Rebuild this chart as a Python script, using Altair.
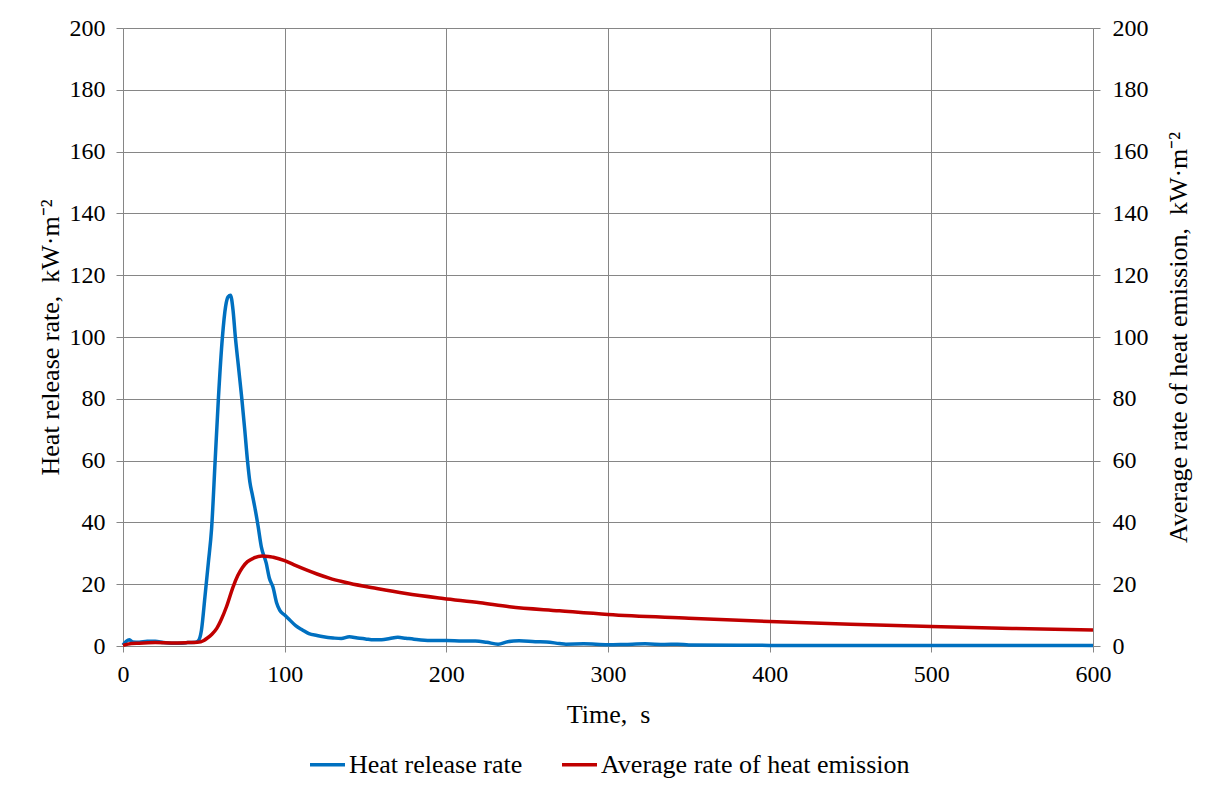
import altair as alt
import pandas as pd

# Heat release rate (blue)
hrr_t = [0, 2, 4, 6, 10, 15, 20, 25, 30, 35, 40, 45, 46.5, 48.5, 50.7, 52.8, 54.8, 57, 59, 61.5,
         63.5, 65, 66.5, 68, 69.5, 71.5, 73.5, 75.3, 77, 78.5, 80, 81.5, 83.5, 85.6, 88.6, 90.5,
         92.8, 95, 97, 100, 103, 107, 111, 115, 120, 124, 130, 135, 140, 145, 150, 155, 160,
         165, 170, 175, 180, 190, 200, 210, 218, 225, 232, 238, 245, 255, 262, 270, 274, 285,
         300, 310, 323, 335, 343, 350, 400, 500, 600]
hrr_v = [0.3, 1.5, 2.0, 1.3, 1.2, 1.5, 1.5, 1.1, 0.9, 0.9, 1.1, 1.2, 1.6, 5, 16, 27, 38, 60, 80, 100,
         110, 113, 113.5, 109, 100, 90, 80, 70, 60, 53, 49, 45, 39, 32, 26.8, 22,
         19, 14, 11.5, 10, 8.5, 6.5, 5.2, 4.0, 3.4, 3.0, 2.6, 2.4, 3.0, 2.6, 2.3, 2.0, 2.0,
         2.4, 2.8, 2.5, 2.2, 1.8, 1.8, 1.6, 1.6, 1.2, 0.6, 1.4, 1.7, 1.4, 1.3, 0.8, 0.6, 0.7,
         0.4, 0.5, 0.7, 0.5, 0.6, 0.3, 0.2, 0.2, 0.2]

# Average rate of heat emission (red)
arhe_t = [0, 3, 10, 20, 30, 40, 46, 50, 52, 55, 58, 61, 64, 68, 71, 74, 77, 81, 86, 90, 93, 100,
          107, 113, 120, 128, 136, 140, 157, 175, 198, 221, 239, 270, 300, 350, 400, 450, 500,
          550, 600]
arhe_v = [0.2, 0.6, 0.9, 1.1, 1.0, 1.1, 1.2, 1.8, 2.5, 3.8, 5.7, 8.8, 12.7, 19, 22.8, 25.5, 27.3,
          28.5, 29.1, 29.0, 28.7, 27.6, 26.0, 24.7, 23.3, 21.9, 20.8, 20.3, 18.6, 17.0, 15.4,
          14.0, 12.7, 11.4, 10.2, 9.0, 7.9, 7.0, 6.3, 5.7, 5.2]

series_names = ["Heat release rate", "Average rate of heat emission"]
series_colors = ["#0070C0", "#C00000"]
x_ticks = [0, 100, 200, 300, 400, 500, 600]
y_ticks = list(range(0, 201, 20))

df = pd.concat([
    pd.DataFrame({"t": hrr_t, "v": hrr_v, "series": series_names[0]}),
    pd.DataFrame({"t": arhe_t, "v": arhe_v, "series": series_names[1]}),
])

FONT = "Liberation Serif"
FS = 24
TFS = 26
AXC = "#868686"

x_enc = alt.X("t:Q", scale=alt.Scale(domain=[0, 600], nice=False),
              axis=alt.Axis(values=x_ticks, title="Time,\u00a0 s", grid=True, tickSize=6,
                            labelPadding=10, titlePadding=15, labelFlush=False))
color_enc = alt.Color("series:N",
                      scale=alt.Scale(domain=series_names, range=series_colors),
                      legend=alt.Legend(title=None, orient="none", legendX=185, legendY=717,
                                        direction="horizontal", symbolType="stroke",
                                        symbolSize=1225, symbolStrokeWidth=3.5,
                                        labelFontSize=TFS, labelFont=FONT, labelLimit=500,
                                        labelOffset=2, columnPadding=32, labelColor="black"))

blue = alt.Chart(df).transform_filter(alt.datum.series == series_names[0]).mark_line(
    strokeWidth=3.5, interpolate="monotone").encode(
    x=x_enc,
    y=alt.Y("v:Q", scale=alt.Scale(domain=[0, 200], nice=False),
            axis=alt.Axis(values=y_ticks, orient="left", grid=True, tickSize=7, labelPadding=11,
                          title="Heat release rate,\u00a0 kW·m⁻²", titlePadding=6)),
    color=color_enc,
)

red = alt.Chart(df).transform_filter(alt.datum.series == series_names[1]).mark_line(
    strokeWidth=3.5, interpolate="monotone").encode(
    x=x_enc,
    y=alt.Y("v:Q", scale=alt.Scale(domain=[0, 200], nice=False),
            axis=alt.Axis(values=y_ticks, orient="right", grid=False, tickSize=7, labelPadding=12,
                          title="Average rate of heat emission,\u00a0 kW·m⁻²", titlePadding=43,
                          titleAngle=270)),
    color=color_enc,
)

chart = alt.layer(blue, red).resolve_scale(y="independent").properties(
    width=970, height=618,
    autosize=alt.AutoSizeParams(type="none"),
    padding={"left": 115, "top": 20, "right": 100, "bottom": 134},
).configure(font=FONT).configure_view(stroke="transparent").configure_axis(
    labelFont=FONT, titleFont=FONT, labelFontSize=FS, titleFontSize=TFS,
    labelColor="black", titleColor="black", titleFontWeight="normal",
    gridColor=AXC, domainColor=AXC, tickColor=AXC, gridWidth=1, domainWidth=1,
)

chart.save("out.html", embed_options={"renderer": "svg", "actions": False})
